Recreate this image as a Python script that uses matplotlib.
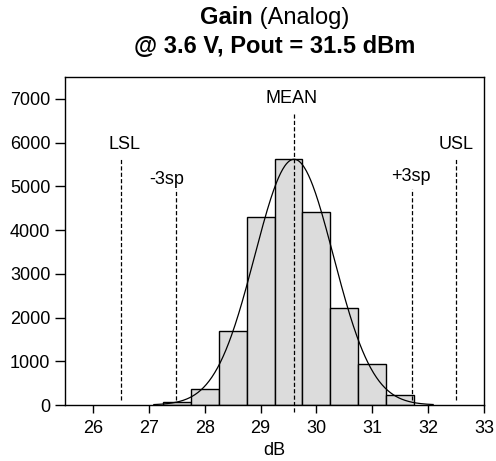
import numpy as np
import matplotlib
matplotlib.use("Agg")
import matplotlib.pyplot as plt

plt.rcParams['font.family'] = ['Liberation Sans', 'DejaVu Sans']
plt.rcParams['lines.scale_dashes'] = False

# ---- data ----
bin_left = [27.25, 27.75, 28.25, 28.75, 29.25, 29.75, 30.25, 30.75, 31.25]
bin_width = 0.5
counts = [80, 375, 1700, 4290, 5630, 4415, 2210, 930, 230]
mean = 29.6
sigma = 0.705
curve_range = (27.09, 32.09)

ref_names = ["LSL", "-3sp", "MEAN", "+3sp", "USL"]
ref_x = [26.5, 27.485, 29.6, 31.715, 32.5]
ref_top = [5650, 4950, 6650, 4950, 5650]
ref_bottom = [120, 120, -150, 120, 120]
label_x = [26.56, 27.32, 29.55, 31.69, 32.50]
label_y = [5850, 5055, 6900, 5130, 5850]

xticks = [26, 27, 28, 29, 30, 31, 32, 33]
yticks = [0, 1000, 2000, 3000, 4000, 5000, 6000, 7000]
xlim = (25.5, 33)
ylim = (0, 7500)

fig = plt.figure(figsize=(4.96, 4.61), dpi=100)
ax = fig.add_axes([65/496, 56/461, 419/496, 328/461])

ax.bar(bin_left, counts, width=bin_width, align='edge', color='#dcdcdc',
       edgecolor='black', linewidth=1.0, zorder=2)

xs = np.linspace(curve_range[0], curve_range[1], 400)
total = sum(counts)
ys = total * bin_width / (sigma * np.sqrt(2 * np.pi)) * np.exp(-0.5 * ((xs - mean) / sigma) ** 2)
ax.plot(xs, ys, color='black', linewidth=0.9, zorder=4)

for name, x, t, b, lx, ly in zip(ref_names, ref_x, ref_top, ref_bottom, label_x, label_y):
    ax.plot([x, x], [b, t], color='black', linewidth=0.9,
            linestyle=(0, (3.0, 1.6)), zorder=3, clip_on=False)
    ax.text(lx, ly, name, ha='center', va='baseline', fontsize=13, zorder=5)

ax.set_xlim(*xlim)
ax.set_ylim(*ylim)
ax.set_xticks(xticks)
ax.set_yticks(yticks)
ax.tick_params(axis='both', labelsize=13, width=1.0, color='black', direction='out')
ax.tick_params(axis='y', length=7.5, pad=3)
ax.tick_params(axis='x', length=6, pad=5)
for sp in ax.spines.values():
    sp.set_linewidth(1.0)
ax.set_xlabel("dB", fontsize=13, labelpad=3.5)

# ---- two-line title with mixed weight on the first line ----
cx = (65 + 484) / 2 / 496
fs_title = 17
t1 = fig.text(0, 1 - 24/461, "Gain", fontsize=fs_title, fontweight='bold', ha='left', va='baseline')
t2 = fig.text(0, 1 - 24/461, " (Analog)", fontsize=fs_title, ha='left', va='baseline')
fig.text(cx, 1 - 53.3/461, "@ 3.6 V, Pout = 31.5 dBm", fontsize=fs_title,
         fontweight='bold', ha='center', va='baseline')
r = fig.canvas.get_renderer()
w1 = t1.get_window_extent(r).width
w2 = t2.get_window_extent(r).width
W = fig.bbox.width
start = cx * W - (w1 + w2) / 2
t1.set_x(start / W)
t2.set_x((start + w1) / W)

fig.savefig("out.png", dpi=100, facecolor='white')
